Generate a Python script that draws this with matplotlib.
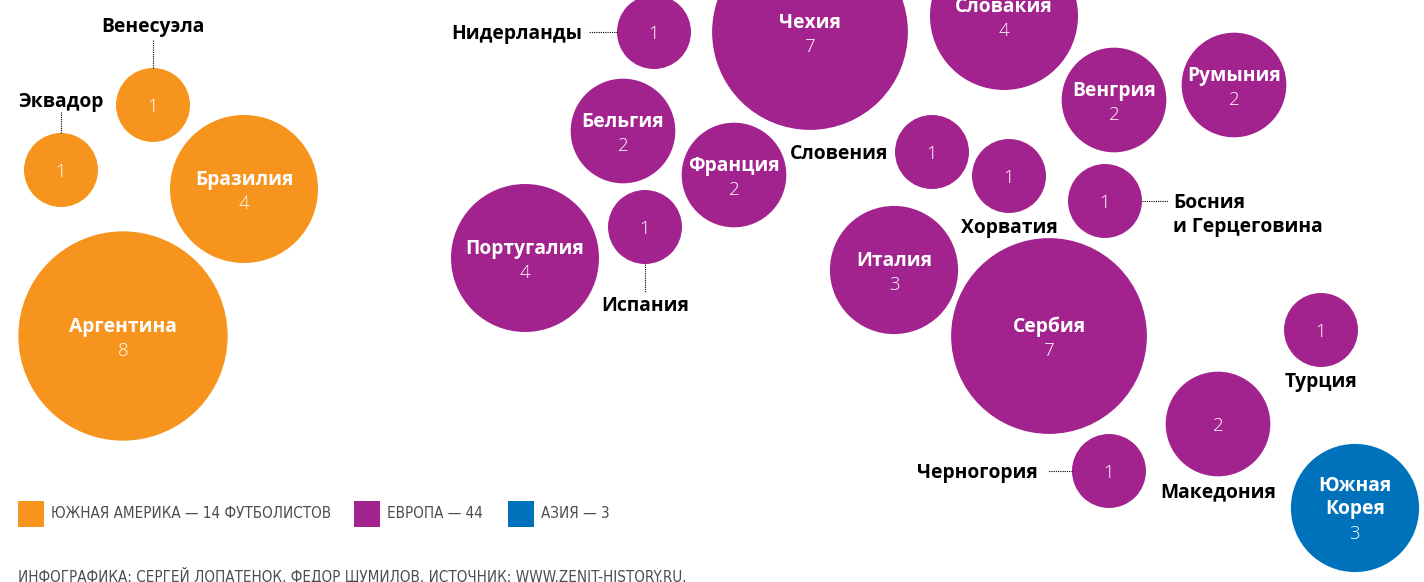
import matplotlib
matplotlib.use("Agg")
import matplotlib.pyplot as plt
from matplotlib.patches import Circle, Rectangle
import numpy as np

# ---------------- data ----------------
countries = ["Аргентина", "Бразилия", "Эквадор", "Венесуэла",
             "Нидерланды", "Чехия", "Словакия", "Бельгия", "Франция",
             "Португалия", "Испания", "Словения", "Хорватия", "Венгрия",
             "Румыния", "Босния\nи Герцеговина", "Италия", "Сербия",
             "Турция", "Македония", "Черногория", "Южная\nКорея"]
players = [8, 4, 1, 1,
           1, 7, 4, 2, 2,
           4, 1, 1, 1, 2,
           2, 1, 3, 7,
           1, 2, 1, 3]
regions = ["sa", "sa", "sa", "sa",
           "eu", "eu", "eu", "eu", "eu",
           "eu", "eu", "eu", "eu", "eu",
           "eu", "eu", "eu", "eu",
           "eu", "eu", "eu", "as"]
legend_labels = ["ЮЖНАЯ АМЕРИКА — 14 ФУТБОЛИСТОВ", "ЕВРОПА — 44", "АЗИЯ — 3"]
legend_regions = ["sa", "eu", "as"]
footnote = "ИНФОГРАФИКА: СЕРГЕЙ ЛОПАТЕНОК, ФЕДОР ШУМИЛОВ. ИСТОЧНИК: WWW.ZENIT-HISTORY.RU."

# ---------------- layout (pixel space) ----------------
centers = [(123, 336), (244, 189), (61, 170), (153, 105),
           (654, 32), (810, 32), (1004, 16), (623, 131), (734, 175),
           (525, 258), (645, 227), (932, 152), (1009, 176), (1114, 100),
           (1234, 85), (1105, 201), (894, 270), (1049, 336),
           (1321, 330), (1218, 424), (1109, 471), (1355, 508)]
# label placement: (side, leader length, gap)
label_place = {"Эквадор": ("top", 21, 12), "Венесуэла": ("top", 29, 14),
               "Нидерланды": ("left", 29, 6), "Испания": ("bottom", 28, 12),
               "Словения": ("left", 0, 7), "Хорватия": ("bottom", 0, 13),
               "Босния\nи Герцеговина": ("right", 26, 5), "Турция": ("bottom", 0, 13),
               "Македония": ("bottom", 0, 14), "Черногория": ("left", 24, 10)}
colors = {"sa": "#F7941D", "eu": "#A3238E", "as": "#0072BC"}
K = 37.0
DY = 2  # text baseline nudge

W, H = 1424, 582
fig = plt.figure(figsize=(W / 100, H / 100), dpi=100)
ax = fig.add_axes([0, 0, 1, 1])
ax.set_xlim(0, W)
ax.set_ylim(H, 0)
ax.axis("off")

bold = dict(family=["Open Sans", "DejaVu Sans"], weight="bold", fontsize=13.9)
light = dict(family=["Open Sans", "DejaVu Sans"], weight="light", fontsize=13.4)

for name, v, reg, (cx, cy) in zip(countries, players, regions, centers):
    r = K * np.sqrt(v)
    ax.add_patch(Circle((cx, cy), r, facecolor=colors[reg], edgecolor="none"))
    if name in label_place:
        ax.text(cx, cy + DY, str(v), color="white", ha="center", va="center", **light)
        side, lead, gap = label_place[name]
        ls = dict(color="black", lw=0.8, linestyle=(0, (1, 1)))
        if side == "top":
            if lead:
                ax.plot([cx, cx], [cy - r, cy - r - lead], **ls)
            ax.text(cx, cy - r - lead - gap + DY, name, ha="center", va="center", **bold)
        elif side == "bottom":
            if lead:
                ax.plot([cx, cx], [cy + r, cy + r + lead], **ls)
            ax.text(cx, cy + r + lead + gap + DY, name, ha="center", va="center", **bold)
        elif side == "left":
            if lead:
                ax.plot([cx - r, cx - r - lead], [cy, cy], **ls)
            ax.text(cx - r - lead - gap, cy + DY, name, ha="right", va="center", **bold)
        else:
            if lead:
                ax.plot([cx + r, cx + r + lead], [cy, cy], **ls)
            first, second = name.split("\n")
            ax.text(cx + r + lead + gap, cy + DY, first, ha="left", va="center", **bold)
            ax.text(cx + r + lead + gap, cy + 24 + DY, second, ha="left", va="center", **bold)
    else:
        lines = name.split("\n")
        if len(lines) == 1:
            ys = [cy - 11]
            vy = cy + 13
        else:
            ys = [cy - 24, cy - 1]
            vy = cy + 24
        for ln, yy in zip(lines, ys):
            ax.text(cx, yy + DY, ln, color="white", ha="center", va="center", **bold)
        ax.text(cx, vy + DY, str(v), color="white", ha="center", va="center", **light)

# legend
lx = [18, 354, 508]
leg_font = dict(family=["DejaVu Sans"], stretch="condensed", weight="light",
                fontsize=10.9, color="#4d4d4d")
for x0, lab, reg in zip(lx, legend_labels, legend_regions):
    ax.add_patch(Rectangle((x0, 501), 26, 26, facecolor=colors[reg], edgecolor="none"))
    ax.text(x0 + 33, 514, lab, ha="left", va="center", **leg_font)

ax.text(18, 575, footnote, ha="left", va="center", **leg_font)

fig.savefig("out.png", dpi=100)
